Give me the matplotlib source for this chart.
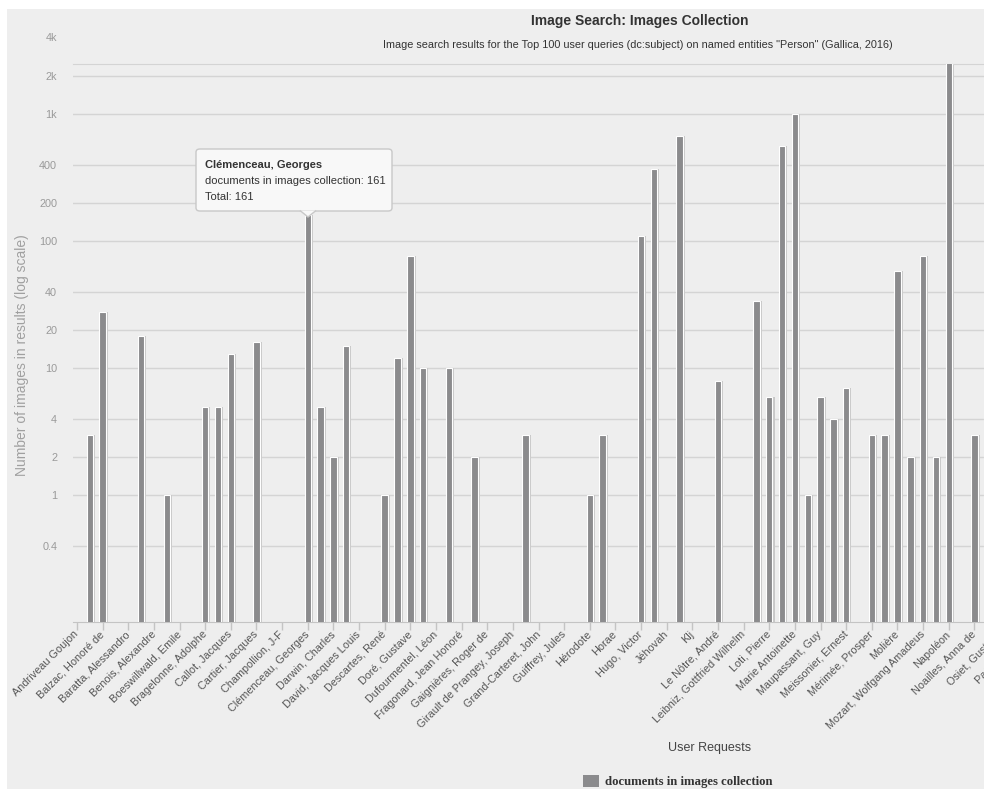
import numpy as np
import matplotlib.pyplot as plt
from matplotlib.patches import Rectangle, FancyBboxPatch, Polygon
from matplotlib.ticker import NullLocator

# Labels shown on the axis (one label every second request)
labels = [
    "Andriveau Goujon", "Balzac, Honoré de", "Baratta, Alessandro", "Benois, Alexandre",
    "Boeswillwald, Emile", "Bragelonne, Adolphe", "Callot, Jacques", "Cartier, Jacques",
    "Champollion, J-F", "Clémenceau, Georges", "Darwin, Charles", "David, Jacques Louis",
    "Descartes, René", "Doré, Gustave", "Dufourmentel, Léon", "Fragonard, Jean Honoré",
    "Gaignières, Roger de", "Girault de Prangey, Joseph", "Grand-Carteret, John", "Guiffrey, Jules",
    "Hérodote", "Horae", "Hugo, Victor", "Jéhovah",
    "Klj", "Le Nôtre, André", "Leibniz, Gottfried Wilhelm", "Loti, Pierre",
    "Marie Antoinette", "Maupassant, Guy", "Meissonier, Ernest", "Mérimée, Prosper",
    "Molière", "Mozart, Wolfgang Amadeus", "Napoléon", "Noailles, Anna de",
    "Osiet, Gustave", "Pasteur, Louis",
]

# documents in images collection, one value per request (None = nothing found)
images = [
    None, 3, 28, None, None, 18, None, 1, None, None,
    5, 5, 13, None, 16, None, None, None, 161, 5,
    2, 15, None, None, 1, 12, 76, 10, None, 10,
    None, 2, None, None, None, 3, None, None, None, None,
    1, 3, None, None, 110, 370, None, 670, None, None,
    8, None, None, 34, 6, 560, 1000, 1, 6, 4,
    7, None, 3, 3, 58, 2, 76, 2, 2600, None,
    3, 9, None, None, None, None,
]

yticks = [0.4, 1, 2, 4, 10, 20, 40, 100, 200, 400, 1000, 2000]
ytick_labels = ["0.4", "1", "2", "4", "10", "20", "40", "100", "200", "400", "1k", "2k"]

W, H = 984, 789
fig = plt.figure(figsize=(W / 100, H / 100), dpi=100)
fig.patch.set_facecolor("white")
plt.rcParams["font.family"] = ["Liberation Sans", "DejaVu Sans"]

# grey card behind the chart
fig.patches.append(Rectangle((7 / W, 0), 1, 1 - 9 / H, transform=fig.transFigure,
                             facecolor="#eeeeee", edgecolor="none", zorder=-10))

# plot area: it runs past the right edge, the screenshot is cropped there
cat_w = 12.82
x0_px = 77
xmin, xmax = -0.35, 76.5
left_px = x0_px + xmin * cat_w
top_px, bot_px = 64.3, 622.3
ax = fig.add_axes([left_px / W, 1 - bot_px / H, (xmax - xmin) * cat_w / W, (bot_px - top_px) / H])
ax.set_facecolor("none")

idx = np.array([i for i, v in enumerate(images) if v is not None])
vals = np.array([v for v in images if v is not None], dtype=float)

ax.set_yscale("log")
ax.bar(idx + 0.16, vals, width=0.5, color="#c8c8c8", zorder=2)
ax.bar(idx, vals, width=0.5, color="#8b8b8d", edgecolor="white", linewidth=0.8, zorder=3)

ax.set_xlim(xmin, xmax)
ax.set_ylim(0.1, 2480)
ax.yaxis.set_minor_locator(NullLocator())
ax.set_yticks(yticks, ytick_labels)
ax.yaxis.grid(True, color="#d4d4d4", linewidth=1)
ax.set_axisbelow(True)
ax.tick_params(axis="y", length=0, pad=11, labelsize=7.8, labelcolor="#9a9a9a")

ax.set_xticks(range(0, 2 * len(labels), 2), labels)
ax.tick_params(axis="x", length=6, width=1, color="#c4c4c4", pad=1.5,
               labelsize=7.8, labelcolor="#555555")
for t in ax.get_xticklabels():
    t.set_rotation(45)
    t.set_ha("right")
    t.set_va("center")
    t.set_rotation_mode("anchor")

for s in ["left", "right"]:
    ax.spines[s].set_visible(False)
ax.spines["top"].set_color("#d4d4d4")
ax.spines["bottom"].set_color("#c4c4c4")

# 4k label sits above the plot area
ax.text(-15.5 / ((xmax - xmin) * cat_w), 4000, "4k", transform=ax.get_yaxis_transform(),
        ha="right", va="center", fontsize=7.8, color="#9a9a9a", clip_on=False)

# titles
fig.text(640 / W, 1 - 21 / H, "Image Search: Images Collection", ha="center", va="center",
         fontsize=10, fontweight="bold", color="#333333")
fig.text(638 / W, 1 - 45 / H,
         'Image search results for the Top 100 user queries (dc:subject) on named entities "Person" (Gallica, 2016)',
         ha="center", va="center", fontsize=7.8, color="#333333")
fig.text(22 / W, 1 - 355 / H, "Number of images in results (log scale)", rotation=90,
         ha="center", va="center", fontsize=10, color="#a0a0a0")
fig.text(710 / W, 1 - 748 / H, "User Requests", ha="center", va="center",
         fontsize=9, color="#444444")

# legend
fig.patches.append(Rectangle((583 / W, 1 - 787 / H), 16 / W, 12 / H, transform=fig.transFigure,
                             facecolor="#8b8b8d", edgecolor="none"))
fig.text(605 / W, 1 - 782 / H, "documents in images collection", ha="left", va="center",
         fontsize=9.2, fontweight="bold", family="Liberation Serif", color="#333333")

# tooltip on Clémenceau
bx0, by0, bx1, by1 = 196, 149, 392, 211
fig.patches.append(FancyBboxPatch((bx0 / W, 1 - by1 / H), (bx1 - bx0) / W, (by1 - by0) / H,
                                  boxstyle="round,pad=0,rounding_size=0.004",
                                  transform=fig.transFigure, facecolor="#f8f8f8",
                                  edgecolor="#c8c8c8", linewidth=1, zorder=5))
fig.patches.append(Polygon([(300 / W, 1 - 210.5 / H), (308 / W, 1 - 217 / H), (316 / W, 1 - 210.5 / H)],
                           closed=False, transform=fig.transFigure, facecolor="#f8f8f8",
                           edgecolor="#c8c8c8", linewidth=1, zorder=5))
fig.text(205 / W, 1 - 165 / H, "Clémenceau, Georges", fontsize=8, fontweight="bold",
         color="#333333", va="center", zorder=6)
fig.text(205 / W, 1 - 181 / H, "documents in images collection: 161", fontsize=8,
         color="#333333", va="center", zorder=6)
fig.text(205 / W, 1 - 197 / H, "Total: 161", fontsize=8, color="#333333", va="center", zorder=6)

fig.savefig("out.png", dpi=100)
